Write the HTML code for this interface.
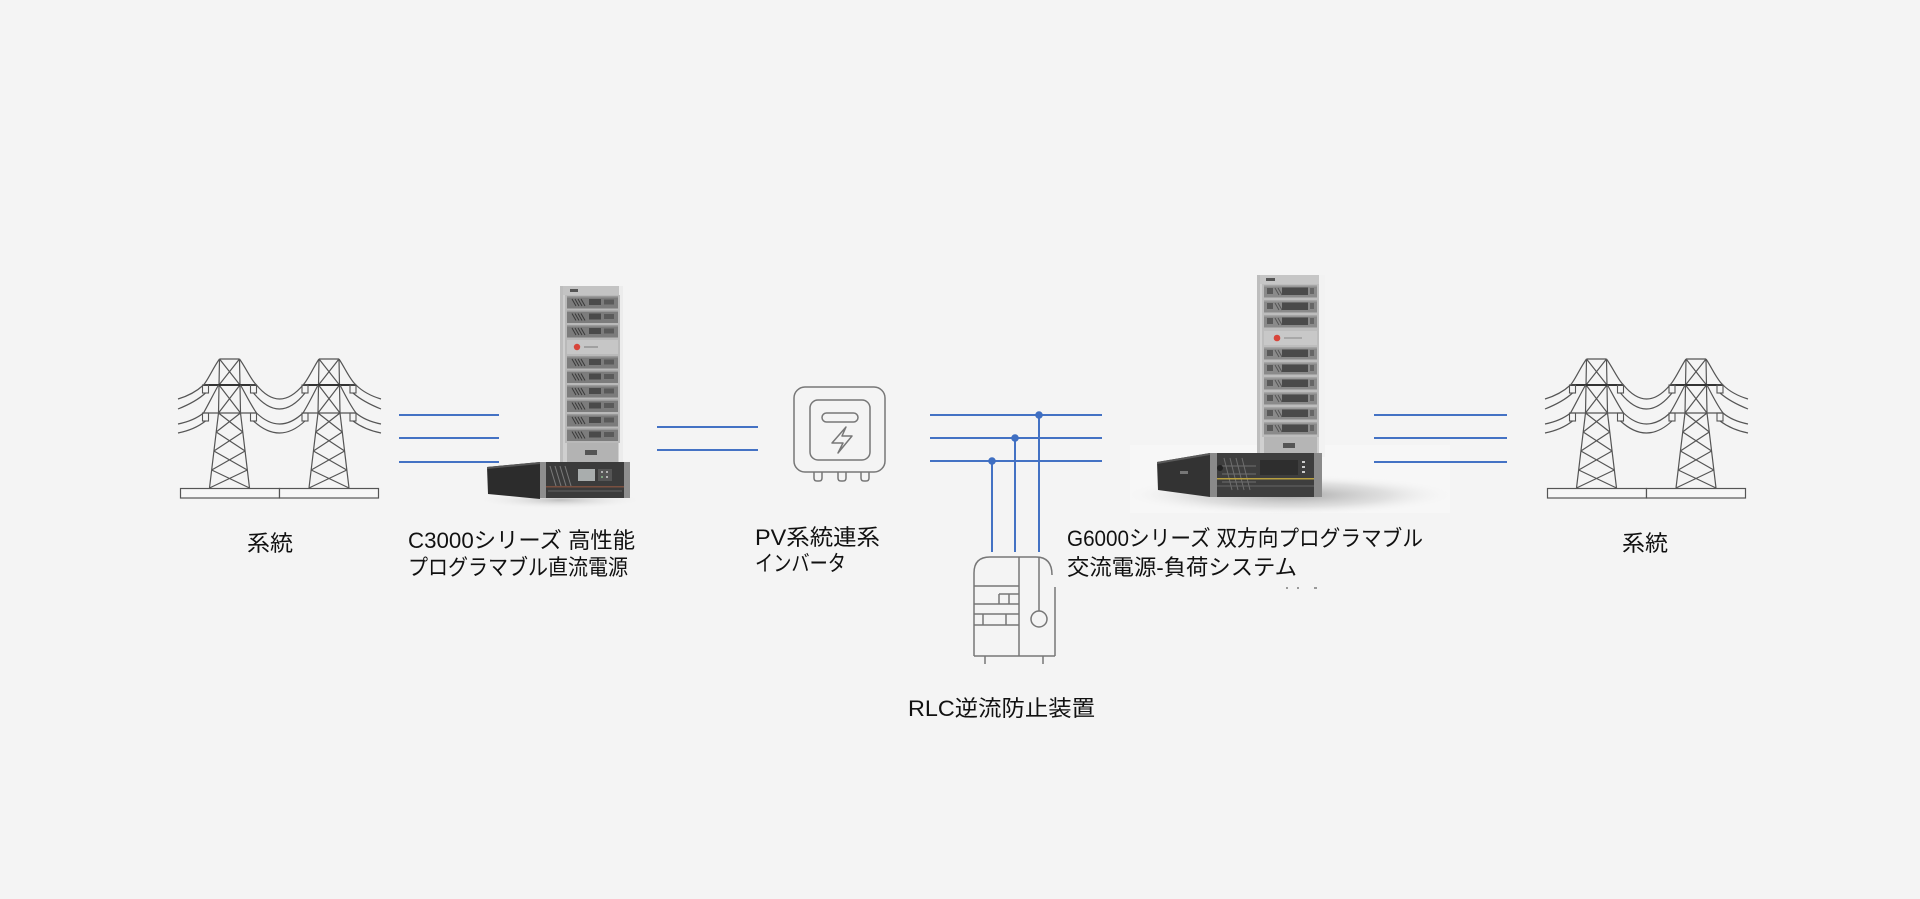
<!DOCTYPE html>
<html>
<head>
<meta charset="utf-8">
<style>
  html,body{margin:0;padding:0;background:#f4f4f4;}
  body{width:1920px;height:899px;overflow:hidden;}
  svg{display:block;}
  text{font-family:"Liberation Sans","Noto Sans CJK JP",sans-serif;fill:#111;font-size:22px;}
</style>
</head>
<body>
<svg width="1920" height="899" viewBox="0 0 1920 899" xmlns="http://www.w3.org/2000/svg">
  <defs>
    <radialGradient id="shadowG" cx="0.5" cy="0.5" r="0.5">
      <stop offset="0" stop-color="#8a8a8a" stop-opacity="0.75"/>
      <stop offset="0.6" stop-color="#b5b5b5" stop-opacity="0.35"/>
      <stop offset="1" stop-color="#f4f4f4" stop-opacity="0"/>
    </radialGradient>
    <radialGradient id="shadowS" cx="0.5" cy="0.5" r="0.5">
      <stop offset="0" stop-color="#9a9a9a" stop-opacity="0.6"/>
      <stop offset="1" stop-color="#f4f4f4" stop-opacity="0"/>
    </radialGradient>
    <g id="tw">
      <path d="M-10 359 H10 M-10 359 L-11 413 L-20 488 M10 359 L11 413 L20 488
               M-10 359 L10.5 385 M10 359 L-10.5 385
               M-10.5 385 L11 413 M10.5 385 L-11 413
               M-11 413 L13.3 432 M11 413 L-13.3 432
               M-13.3 432 L15.6 451 M13.3 432 L-15.6 451
               M-15.6 451 L17.8 470 M15.6 451 L-17.8 470
               M-17.8 470 L20 488 M17.8 470 L-20 488
               M-26 413 H27" fill="none" stroke="#555" stroke-width="1.2"/>
      <path d="M-26 385 H27" stroke="#333" stroke-width="2"/>
      <rect x="-27" y="385" width="6" height="8" fill="none" stroke="#555" stroke-width="1.1"/>
      <rect x="21" y="385" width="6" height="8" fill="none" stroke="#555" stroke-width="1.1"/>
      <rect x="-27" y="413" width="6" height="8" fill="none" stroke="#555" stroke-width="1.1"/>
      <rect x="21" y="413" width="6" height="8" fill="none" stroke="#555" stroke-width="1.1"/>
    </g>
    <g id="pair">
      <use href="#tw" transform="translate(49.5,0)"/>
      <use href="#tw" transform="translate(149,0)"/>
      <path fill="none" stroke="#555" stroke-width="1.2" d="
        M39.5 359 C33 368 28 380 23.5 385 C16 392 8 396 -2 399
        M25.5 393 C18 400 8 405 -2 409
        M38.5 385 C33 395 28 405 23.5 413 C16 419 8 422 -2 424
        M25.5 421 C18 427 8 431 -2 433
        M59.5 359 C66 368 71 380 76.5 385 Q99.5 413 123 385 C128 380 133 368 139 359
        M73.5 393 Q99.5 425 125 393
        M60.5 385 C66 395 71 405 76.5 413 Q99.5 435 123 413 C128 405 133 395 138 385
        M73.5 421 Q99.5 445 125 421
        M159 359 C165 368 170 380 176 385 C183 392 191 396 201 399
        M173 393 C181 400 191 405 201 409
        M160 385 C165 395 170 405 176 413 C183 419 191 422 201 424
        M173 421 C181 427 191 431 201 433"/>
      <rect x="0.5" y="488.5" width="99" height="9.5" fill="#f7f7f7" stroke="#555" stroke-width="1.2"/>
      <rect x="99.5" y="488.5" width="99" height="9.5" fill="#f7f7f7" stroke="#555" stroke-width="1.2"/>
    </g>
    <g id="mod">
      <rect x="0" y="0" width="51" height="12.5" fill="#7c7c7c"/>
      <rect x="0" y="0" width="51" height="1.5" fill="#9a9a9a"/>
      <path d="M5 3 L9 10 M8 3 L12 10 M11 3 L15 10 M14 3 L18 10" stroke="#3a3a3a" stroke-width="1"/>
      <rect x="22" y="3" width="12" height="6" fill="#4a4a4a"/>
      <rect x="37" y="3.5" width="10" height="5" fill="#5a5a5a"/>
    </g>
    <g id="modG">
      <rect x="0" y="0" width="53" height="12.5" fill="#8a8a8a"/>
      <rect x="0" y="0" width="53" height="1.5" fill="#a5a5a5"/>
      <rect x="3" y="3" width="6" height="6" fill="#5a5a5a"/>
      <path d="M11 3 L15 10 M14 3 L18 10" stroke="#555" stroke-width="1"/>
      <rect x="18" y="2.5" width="26" height="7.5" fill="#4a4a4a"/>
      <rect x="46" y="3" width="4" height="6" fill="#666"/>
    </g>
  </defs>

  <rect x="0" y="0" width="1920" height="899" fill="#f4f4f4"/>

  <!-- Towers -->
  <use href="#pair" transform="translate(180,0)"/>
  <use href="#pair" transform="translate(1547,0)"/>

  <!-- C3000 rack -->
  <ellipse cx="560" cy="500" rx="85" ry="9" fill="url(#shadowS)"/>
  <rect x="560" y="286" width="63" height="177" fill="#cfcfcf"/>
  <rect x="560" y="286" width="3" height="177" fill="#bdbdbd"/>
  <rect x="619" y="286" width="4" height="177" fill="#ececec"/>
  <rect x="563" y="286" width="56" height="9" fill="#c3c3c3"/>
  <rect x="570" y="289" width="8" height="3" fill="#555"/>
  <rect x="565" y="295" width="55" height="148" fill="#b9b9b9"/>
  <use href="#mod" transform="translate(567,296)"/>
  <use href="#mod" transform="translate(567,310.5)"/>
  <use href="#mod" transform="translate(567,325)"/>
  <rect x="567" y="340" width="51" height="14" fill="#c6c6c6"/>
  <circle cx="577" cy="347" r="3.2" fill="#d8453a"/>
  <rect x="584" y="346" width="14" height="2" fill="#a0a0a0"/>
  <use href="#mod" transform="translate(567,356)"/>
  <use href="#mod" transform="translate(567,370.5)"/>
  <use href="#mod" transform="translate(567,385)"/>
  <use href="#mod" transform="translate(567,399.5)"/>
  <use href="#mod" transform="translate(567,414)"/>
  <use href="#mod" transform="translate(567,428.5)"/>
  <rect x="567" y="443" width="51" height="20" fill="#b3b3b3"/>
  <rect x="585" y="450" width="12" height="5" fill="#555"/>
  <!-- C3000 horizontal unit -->
  <polygon points="487,467 540,462 540,499 488,494" fill="#2c2c2c"/>
  <polygon points="487,467 540,462 540,464 487,469" fill="#555"/>
  <rect x="540" y="462" width="90" height="36" fill="#3b3b3b"/>
  <rect x="540" y="462" width="6" height="36" fill="#8e8e8e"/>
  <rect x="624" y="462" width="6" height="36" fill="#8e8e8e"/>
  <path d="M550 466 L556 486 M555 466 L561 486 M560 466 L566 486 M565 466 L571 486" stroke="#7a7a7a" stroke-width="1"/>
  <rect x="578" y="469" width="17" height="12" fill="#a9adad"/>
  <rect x="598" y="469" width="14" height="12" fill="#555"/>
  <circle cx="602" cy="472" r="1" fill="#cfcfcf"/><circle cx="607" cy="472" r="1" fill="#cfcfcf"/>
  <circle cx="602" cy="477" r="1" fill="#8fc08f"/><circle cx="607" cy="477" r="1" fill="#cfcfcf"/>
  <rect x="546" y="486" width="78" height="1.5" fill="#7a5040"/>
  <path d="M548 491 H622" stroke="#666" stroke-width="1"/>

  <!-- PV inverter icon -->
  <g fill="none" stroke="#777" stroke-width="1.5">
    <rect x="794" y="387" width="91" height="85" rx="11"/>
    <rect x="810" y="400" width="60" height="60" rx="8"/>
    <rect x="822" y="413" width="36" height="9" rx="4.5"/>
    <path d="M846 427 L832 443 L843 443 L838 453 L852 436 L842 436 Z" stroke-linejoin="round"/>
    <path d="M814 472 V478 Q814 481 817 481 H819 Q822 481 822 478 V472"/>
    <path d="M838 472 V478 Q838 481 841 481 H843 Q846 481 846 478 V472"/>
    <path d="M861 472 V478 Q861 481 864 481 H866 Q869 481 869 478 V472"/>
  </g>

  <!-- RLC device icon -->
  <g fill="none" stroke="#777" stroke-width="1.5">
    <path d="M974 656 V573 Q974 557 990 557 H1036 Q1052 557 1052 575"/>
    <path d="M1055 587 V656"/>
    <path d="M974 656 H1055"/>
    <path d="M1019 557 V656"/>
    <path d="M974 586 H1019 M974 604 H1019 M974 614 H1019 M974 625 H1019"/>
    <path d="M999 594 H1019 M999 594 V604 M1009 594 V604"/>
    <path d="M1006 614 V625 M983 614 V625"/>
    <path d="M1039 557 V611"/>
    <circle cx="1039" cy="619" r="8"/>
    <path d="M985 656 V664 M1043 656 V664"/>
  </g>

  <!-- G6000 -->
  <rect x="1130" y="445" width="320" height="68" fill="#f7f7f7"/>
  <ellipse cx="1290" cy="495" rx="165" ry="20" fill="url(#shadowG)"/>
  <rect x="1257" y="275" width="67" height="182" fill="#d0d0d0"/>
  <rect x="1257" y="275" width="3" height="182" fill="#bdbdbd"/>
  <rect x="1319" y="275" width="6" height="182" fill="#f2f2f2"/>
  <rect x="1260" y="275" width="59" height="9" fill="#c6c6c6"/>
  <rect x="1266" y="278" width="9" height="3" fill="#555"/>
  <rect x="1262" y="284" width="57" height="153" fill="#bdbdbd"/>
  <use href="#modG" transform="translate(1264,285)"/>
  <use href="#modG" transform="translate(1264,300)"/>
  <use href="#modG" transform="translate(1264,315)"/>
  <rect x="1264" y="331" width="53" height="14" fill="#c8c8c8"/>
  <circle cx="1277" cy="338" r="3.3" fill="#d8453a"/>
  <rect x="1284" y="337" width="18" height="2" fill="#a8a8a8"/>
  <use href="#modG" transform="translate(1264,347)"/>
  <use href="#modG" transform="translate(1264,362)"/>
  <use href="#modG" transform="translate(1264,377)"/>
  <use href="#modG" transform="translate(1264,392)"/>
  <use href="#modG" transform="translate(1264,407)"/>
  <use href="#modG" transform="translate(1264,422)"/>
  <rect x="1264" y="437" width="53" height="20" fill="#b5b5b5"/>
  <rect x="1283" y="443" width="12" height="5" fill="#555"/>
  <!-- G6000 horizontal unit -->
  <polygon points="1157,462 1210,453 1210,497 1158,490" fill="#333"/>
  <polygon points="1157,462 1210,453 1210,455 1157,464" fill="#5a5a5a"/>
  <rect x="1180" y="471" width="8" height="3" fill="#777"/>
  <rect x="1210" y="453" width="112" height="44" fill="#3e3e3e"/>
  <rect x="1210" y="453" width="7" height="44" fill="#8a8a8a"/>
  <rect x="1314" y="453" width="8" height="44" fill="#8a8a8a"/>
  <path d="M1224 458 L1232 490 M1230 458 L1238 490 M1236 458 L1244 490 M1242 458 L1250 490 M1222 466 H1256 M1222 474 H1256 M1222 482 H1256" stroke="#6e6e6e" stroke-width="1"/>
  <circle cx="1220" cy="468" r="3" fill="#222"/>
  <rect x="1260" y="460" width="38" height="15" fill="#2e2e2e"/>
  <rect x="1302" y="461" width="3" height="2" fill="#ccc"/>
  <rect x="1302" y="466" width="3" height="2" fill="#ccc"/>
  <rect x="1302" y="471" width="3" height="2" fill="#ccc"/>
  <rect x="1217" y="478" width="97" height="1.5" fill="#b8a040"/>
  <path d="M1217 486 H1314" stroke="#666" stroke-width="1"/>
  <g fill="#9a9a9a">
    <rect x="1286" y="587" width="2" height="2"/>
    <rect x="1297" y="587" width="2" height="2"/>
    <rect x="1314" y="587" width="3" height="2"/>
  </g>

  <!-- Blue lines (drawn last so nothing covers them) -->
  <g stroke="#4472c4" stroke-width="2" fill="none">
    <path d="M399 415 H499 M399 438 H499 M399 462 H499"/>
    <path d="M657 427 H758 M657 450 H758"/>
    <path d="M930 415 H1102 M930 438 H1102 M930 461 H1102"/>
    <path d="M1374 415 H1507 M1374 438 H1507 M1374 462 H1507"/>
    <path d="M1039 415 V552 M1015 438 V552 M992 461 V552"/>
  </g>
  <g fill="#3f6fc2">
    <circle cx="1039" cy="415" r="3.8"/>
    <circle cx="1015" cy="438" r="3.8"/>
    <circle cx="992" cy="461" r="3.8"/>
  </g>

  <!-- Labels -->
  <text x="270" y="551" text-anchor="middle" textLength="46" lengthAdjust="spacingAndGlyphs">系統</text>
  <text x="408" y="548" textLength="227" lengthAdjust="spacingAndGlyphs">C3000シリーズ 高性能</text>
  <text x="408" y="575" textLength="220" lengthAdjust="spacingAndGlyphs">プログラマブル直流電源</text>
  <text x="755" y="545" textLength="125" lengthAdjust="spacingAndGlyphs">PV系統連系</text>
  <text x="755" y="571" textLength="91" lengthAdjust="spacingAndGlyphs">インバータ</text>
  <text x="1067" y="546" textLength="356" lengthAdjust="spacingAndGlyphs">G6000シリーズ 双方向プログラマブル</text>
  <text x="1067" y="575" textLength="230" lengthAdjust="spacingAndGlyphs">交流電源-負荷システム</text>
  <text x="908" y="716" textLength="187" lengthAdjust="spacingAndGlyphs">RLC逆流防止装置</text>
  <text x="1645" y="551" text-anchor="middle" textLength="46" lengthAdjust="spacingAndGlyphs">系統</text>
</svg>
</body>
</html>
